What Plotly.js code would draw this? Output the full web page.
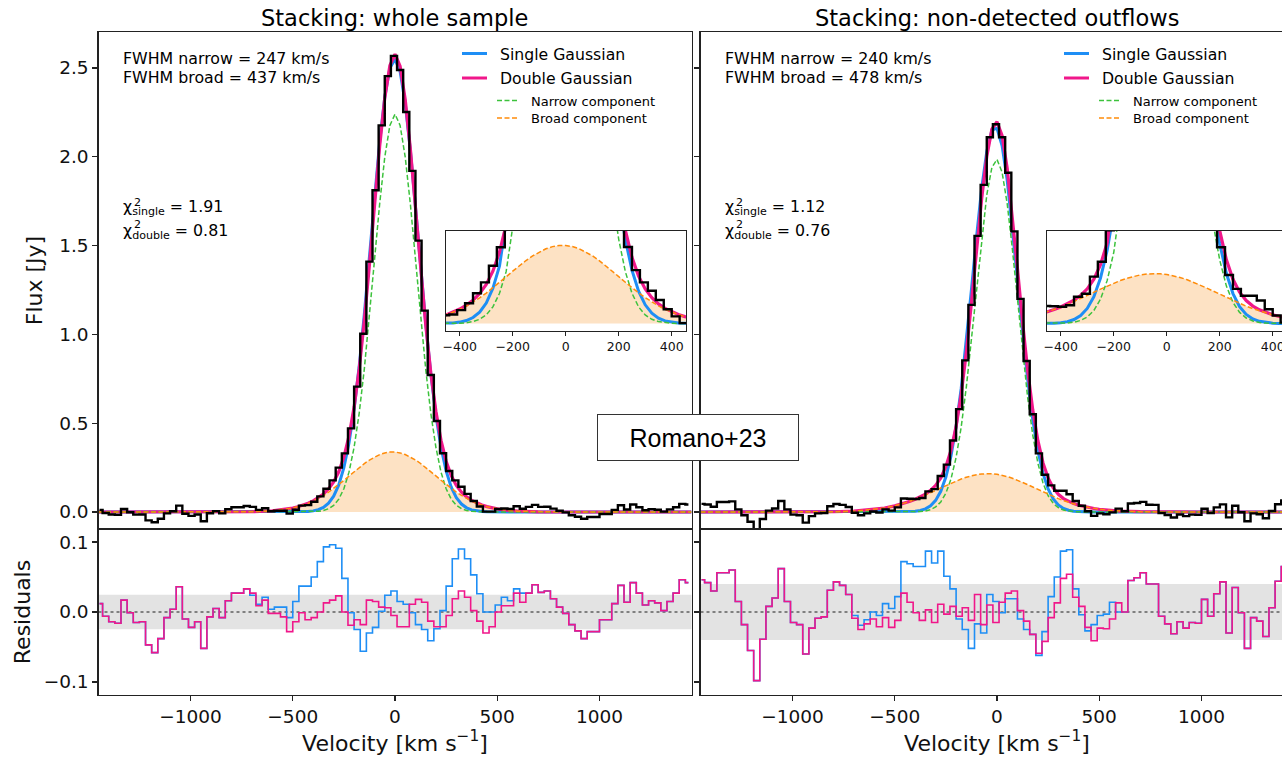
<!DOCTYPE html>
<html><head><meta charset="utf-8">
<script src="https://cdn.plot.ly/plotly-3.0.1.min.js"></script>
<style>html,body{margin:0;padding:0;overflow:hidden;background:#fff}#chart{width:1300px;height:760px}</style>
</head><body><div id="chart"></div><script>
// ---------- DATA ----------
// spectral channel centres [km/s]
const VEL = [-1445,-1415,-1385,-1355,-1325,-1295,-1265,-1235,-1205,-1175,-1145,-1115,-1085,-1055,-1025,-995,-965,-935,-905,-875,-845,-815,-785,-755,-725,-695,-665,-635,-605,-575,-545,-515,-485,-455,-425,-395,-365,-335,-305,-275,-245,-215,-185,-155,-125,-95,-65,-35,-5,25,55,85,115,145,175,205,235,265,295,325,355,385,415,445,475,505,535,565,595,625,655,685,715,745,775,805,835,865,895,925,955,985,1015,1045,1075,1105,1135,1165,1195,1225,1255,1285,1315,1345,1375,1405,1435];

// stacked flux, whole sample [Jy]
const FLUX_WHOLE = [0.012,-0.006,-0.014,-0.016,0.017,-0.001,-0.015,-0.014,-0.047,-0.058,
 -0.038,-0.008,0.004,0.036,-0.010,-0.022,-0.014,-0.052,-0.007,0.005,
 -0.008,0.016,0.027,0.027,0.034,0.029,0.012,0.021,0.004,0.007,
 0.007,-0.009,0.013,0.036,0.039,0.058,0.088,0.131,0.178,0.250,
 0.330,0.471,0.706,1.004,1.410,1.812,2.177,2.454,2.568,
 2.489,2.252,1.921,1.528,1.134,0.771,0.512,0.331,0.231,0.178,
 0.142,0.102,0.062,0.031,0.002,0.002,0.017,0.020,0.017,0.032,
 0.018,0.029,0.040,0.029,0.030,0.019,0.007,-0.002,-0.018,-0.027,
 -0.038,-0.028,-0.028,-0.011,-0.011,0.012,0.038,0.014,0.042,0.027,
 0.010,0.016,0.013,0.002,0.015,0.027,0.046,0.042];
// residuals, whole sample
const RES_DOUBLE_WHOLE = [0.012,-0.006,-0.014,-0.016,0.017,-0.001,-0.015,-0.014,-0.047,-0.058,
 -0.038,-0.008,0.004,0.036,-0.010,-0.022,-0.014,-0.052,-0.007,0.005,
 -0.008,0.016,0.027,0.027,0.033,0.027,0.009,0.017,-0.002,-0.002,
 -0.007,-0.028,-0.014,-0.001,-0.011,-0.008,0.000,0.013,0.017,0.023,
 0.000,-0.019,-0.011,-0.018,0.017,0.015,0.007,0.006,-0.005,
 -0.021,-0.021,0.011,0.018,0.014,-0.013,-0.021,-0.021,-0.005,0.019,
 0.030,0.021,0.002,-0.013,-0.030,-0.021,0.000,0.009,0.009,0.027,
 0.014,0.027,0.039,0.028,0.030,0.019,0.007,-0.002,-0.018,-0.027,
 -0.038,-0.028,-0.028,-0.011,-0.011,0.012,0.038,0.014,0.042,0.027,
 0.010,0.016,0.013,0.002,0.015,0.027,0.046,0.042];
const RES_SINGLE_WHOLE = [0.012,-0.006,-0.014,-0.016,0.017,-0.001,-0.015,-0.014,-0.047,-0.058,
 -0.038,-0.008,0.004,0.036,-0.010,-0.022,-0.014,-0.052,-0.007,0.005,
 -0.008,0.016,0.027,0.027,0.033,0.024,0.011,0.021,0.004,0.007,
 0.007,-0.008,0.015,0.037,0.037,0.050,0.072,0.093,0.096,0.091,
 0.048,-0.001,-0.025,-0.056,-0.030,-0.022,0.001,0.024,0.030,
 0.015,0.011,-0.001,-0.018,-0.025,-0.041,-0.024,0.002,0.037,0.076,
 0.090,0.076,0.053,0.026,0.000,0.000,0.010,0.021,0.016,0.033,
 0.027,0.027,0.039,0.028,0.030,0.019,0.007,-0.002,-0.018,-0.027,
 -0.038,-0.028,-0.028,-0.011,-0.011,0.012,0.038,0.014,0.042,0.027,
 0.010,0.016,0.013,0.002,0.015,0.027,0.046,0.042];

// stacked flux, non-detected outflows [Jy]
const FLUX_NONDET = [0.046,0.042,0.030,0.056,0.056,0.060,0.015,-0.018,-0.055,-0.098,
 -0.039,0.008,0.020,0.062,0.015,-0.015,-0.018,-0.060,-0.023,-0.008,
 -0.006,0.032,0.045,0.040,0.028,-0.004,-0.018,-0.008,0.003,-0.003,
 0.015,0.008,0.026,0.076,0.075,0.073,0.079,0.116,0.129,0.203,
 0.267,0.403,0.579,0.854,1.166,1.555,1.842,2.110,2.183,
 2.110,1.910,1.580,1.200,0.850,0.550,0.330,0.210,0.150,0.120,
 0.120,0.100,0.062,0.035,0.004,-0.022,-0.008,-0.013,-0.002,0.019,
 0.004,0.048,0.051,0.057,0.041,0.040,-0.006,-0.017,-0.031,-0.014,
 -0.023,-0.015,-0.016,0.018,-0.006,0.026,0.043,-0.030,0.035,-0.001,
 -0.052,-0.008,-0.013,-0.035,0.006,0.044,0.065,0.050];
const RES_DOUBLE_NONDET = [0.046,0.042,0.030,0.056,0.056,0.060,0.015,-0.018,-0.055,-0.098,
 -0.039,0.008,0.020,0.062,0.015,-0.015,-0.018,-0.060,-0.023,-0.009,
 -0.007,0.031,0.043,0.038,0.025,-0.009,-0.025,-0.017,-0.010,-0.021,
 -0.008,-0.022,-0.012,0.027,0.014,-0.001,-0.012,0.003,-0.015,0.011,
 -0.003,0.008,-0.006,0.006,-0.012,0.025,-0.018,0.010,-0.015,
 0.014,0.027,0.030,0.002,-0.013,-0.032,-0.059,-0.042,-0.008,0.013,
 0.048,0.054,0.021,0.008,-0.022,-0.041,-0.023,-0.024,-0.010,0.013,
 0.000,0.045,0.049,0.056,0.040,0.040,-0.006,-0.017,-0.031,-0.014,
 -0.023,-0.015,-0.016,0.018,-0.006,0.026,0.043,-0.030,0.035,-0.001,
 -0.052,-0.008,-0.013,-0.035,0.006,0.044,0.065,0.050];
const RES_SINGLE_NONDET = [0.046,0.042,0.030,0.056,0.056,0.060,0.015,-0.018,-0.055,-0.098,
 -0.039,0.008,0.020,0.062,0.015,-0.015,-0.018,-0.060,-0.023,-0.009,
 -0.007,0.031,0.043,0.038,0.025,-0.005,-0.019,-0.011,0.000,-0.005,
 0.012,0.005,0.022,0.072,0.069,0.065,0.065,0.087,0.070,0.087,
 0.051,0.033,-0.010,-0.025,-0.052,-0.017,-0.030,0.025,0.015,
 -0.001,0.019,0.019,-0.010,-0.025,-0.032,-0.062,-0.028,0.022,0.050,
 0.087,0.089,0.033,-0.004,-0.027,-0.018,-0.005,-0.003,0.014,0.000,
 0.000,0.045,0.049,0.056,0.040,0.040,-0.006,-0.017,-0.031,-0.014,
 -0.023,-0.015,-0.016,0.018,-0.006,0.026,0.043,-0.030,0.035,-0.001,
 -0.052,-0.008,-0.013,-0.035,0.006,0.044,0.065,0.050];

// velocity grid of the fitted model curves [km/s]
const MODEL_V = [-1450,-1000,-800,-700,-600,-550,-500,-475,-450,-425,-400,-375,-350,-325,-300,-275,-250,-225,-200,-175,-150,-125,-100,-75,-50,-25,0,25,50,75,100,125,150,175,200,225,250,275,300,325,350,375,400,425,450,475,500,550,600,700,800,1000,1450];

const NARROW_WHOLE = [0,0,0,0,0,0, 0,0,0.0002,0.0006,0.0016,0.0038,0.0086,0.0184,0.0375,0.0722,0.131,0.2245,0.364,0.557,0.806,1.101,1.422,1.735,1.999,2.177, 2.24, 2.177,1.999,1.735,1.422,1.101,0.806,0.557,0.364,0.2245,0.131,0.0722,0.0375,0.0184,0.0086,0.0038,0.0016,0.0006,0.0002,0,0, 0,0,0,0,0,0];
const BROAD_WHOLE = [0,0,0.0003,0.0016,0.0067,0.0127, 0.0227,0.0297,0.0384,0.0489,0.0613,0.0759,0.0925,0.1113,0.132,0.1543,0.1779,0.2021,0.2264,0.2501,0.2724,0.2924,0.3096,0.3231,0.3325,0.3374, 0.3374, 0.3328,0.3236,0.3102,0.2932,0.2732,0.251,0.2274,0.203,0.1788,0.1552,0.1328,0.1121,0.0933,0.0765,0.0619,0.0493,0.0388,0.03,0.023,0.0173, 0.0094,0.0048,0.0011,0.0002,0,0];
const DOUBLE_WHOLE = [0,0,0.0003,0.0016,0.0067,0.0127, 0.0227,0.0297,0.0386,0.0495,0.0629,0.0797,0.1011,0.1297,0.1695,0.2265,0.3089,0.4266,0.5904,0.8071,1.0784,1.3934,1.7316,2.0581,2.3315,2.5144, 2.5774, 2.5098,2.3226,2.0452,1.7152,1.3742,1.057,0.7844,0.567,0.4033,0.2862,0.205,0.1496,0.1117,0.0851,0.0657,0.0509,0.0394,0.0302,0.023,0.0173, 0.0094,0.0048,0.0011,0.0002,0,0];
const SINGLE_WHOLE = [0,0,0,0,0,0, 0.0002,0.0005,0.0013,0.0029,0.0064,0.0132,0.0262,0.0494,0.0888,0.1523,0.2493,0.3891,0.5794,0.8224,1.1141,1.4392,1.7736,2.0846,2.3372,2.4995, 2.5496, 2.4807,2.3021,2.038,1.7208,1.3858,1.0646,0.78,0.5452,0.3634,0.2311,0.1402,0.0811,0.0448,0.0236,0.0118,0.0057,0.0026,0.0011,0.0005,0.0002, 0,0,0,0,0,0];

const NARROW_NONDET = [0,0,0,0,0,0, 0,0,0.0001,0.0004,0.001,0.0026,0.0061,0.0136,0.0287,0.0567,0.1057,0.1856,0.3071,0.4789,0.7036,0.9735,1.2632,1.5489,1.7859,1.9403, 1.9851, 1.9126,1.7352,1.4817,1.1924,0.9027,0.6436,0.433,0.2746,0.163,0.0915,0.0484,0.0241,0.0113,0.005,0.0021,0.0008,0.0003,0.0001,0,0, 0,0,0,0,0,0];
const BROAD_NONDET = [0,0.0001,0.0014,0.0048,0.0141,0.0226, 0.0346,0.0421,0.0506,0.0602,0.0708,0.0824,0.0948,0.1079,0.1215,0.1353,0.1489,0.1622,0.1746,0.186,0.1959,0.2041,0.2103,0.2143,0.216,0.2152, 0.2122, 0.2068,0.1994,0.1902,0.1793,0.1673,0.1543,0.1407,0.127,0.1133,0.1,0.0873,0.0753,0.0643,0.0543,0.0453,0.0375,0.0306,0.0247,0.0197,0.0156, 0.0094,0.0054,0.0016,0.0004,0,0];
const DOUBLE_NONDET = [0,0.0001,0.0014,0.0048,0.0141,0.0226, 0.0346,0.0421,0.0507,0.0606,0.0718,0.085,0.1009,0.1215,0.1502,0.192,0.2546,0.3478,0.4817,0.6649,0.8995,1.1776,1.4735,1.7632,2.0019,2.1555, 2.1973, 2.1194,1.9346,1.6719,1.3717,1.07,0.7979,0.5737,0.4016,0.2763,0.1915,0.1357,0.0994,0.0756,0.0593,0.0474,0.0383,0.0309,0.0248,0.0197,0.0156, 0.0094,0.0054,0.0016,0.0004,0,0];
const SINGLE_NONDET = [0,0,0,0,0,0, 0.0001,0.0003,0.0007,0.0017,0.0038,0.0084,0.0176,0.0347,0.0654,0.1163,0.1969,0.316,0.482,0.6972,0.9594,1.2515,1.5487,1.82,2.0301,2.1498, 2.161, 2.0621,1.8677,1.6063,1.3116,1.0171,0.7469,0.5192,0.3456,0.2174,0.1297,0.0734,0.0395,0.0202,0.0098,0.0045,0.002,0.0008,0.0003,0.0001,0, 0,0,0,0,0,0];

// rms bands of the residuals
const RMS_WHOLE = 0.0245;
const RMS_NONDET = 0.040;

// texts
const PANEL_TITLES = ['Stacking: whole sample', 'Stacking: non-detected outflows'];
const FWHM_TEXT = [['FWHM narrow = 247 km/s','FWHM broad = 437 km/s'],['FWHM narrow = 240 km/s','FWHM broad = 478 km/s']];
const CHI_SINGLE = ['1.91','1.12'];
const CHI_DOUBLE = ['0.81','0.76'];
const LEGEND_NAMES = ['Single Gaussian','Double Gaussian','Narrow component','Broad component'];
const FLUX_TICKS = [0,0.5,1,1.5,2,2.5];
const RES_TICKS = [-0.1,0,0.1];
const VEL_TICKS = [-1000,-500,0,500,1000];
const INSET_TICKS = [-400,-200,0,200,400];

// ---------- STYLE / LAYOUT ----------
const W = 1300, H = 760;
const px = x => x / W, py = y => 1 - y / H;
const FONT = 'DejaVu Sans, sans-serif';
const C_SINGLE = '#1e8ef5', C_DOUBLE = '#f0178a', C_NARROW = '#3cc23c', C_BROAD = '#ff8c0a', C_FILL = '#fde2c4';
const DASH = '5px,2.5px';

function specTraces(xa, ya, narrow, broad, single, dbl, flux) {
  const base = {xaxis: xa, yaxis: ya, type: 'scatter', hoverinfo: 'skip', showlegend: false, cliponaxis: true};
  return [
    Object.assign({x: MODEL_V, y: broad, mode: 'none', fill: 'tozeroy', fillcolor: C_FILL}, base),
    Object.assign({x: MODEL_V, y: single, mode: 'lines', line: {color: C_SINGLE, width: 3}}, base),
    Object.assign({x: MODEL_V, y: dbl, mode: 'lines', line: {color: C_DOUBLE, width: 3.2}}, base),
    Object.assign({x: MODEL_V, y: narrow, mode: 'lines', line: {color: C_NARROW, width: 1.5, dash: DASH}}, base),
    Object.assign({x: MODEL_V, y: broad, mode: 'lines', line: {color: C_BROAD, width: 1.5, dash: DASH}}, base),
    Object.assign({x: VEL, y: flux, mode: 'lines', line: {color: '#000', width: 2.4, shape: 'hvh'}}, base)
  ];
}
function resTraces(xa, ya, rs, rd) {
  const base = {xaxis: xa, yaxis: ya, type: 'scatter', mode: 'lines', hoverinfo: 'skip', showlegend: false};
  return [
    Object.assign({x: VEL, y: rs, line: {color: C_SINGLE, width: 1.6, shape: 'hvh'}}, base),
    Object.assign({x: VEL, y: rd, line: {color: C_DOUBLE, width: 1.6, shape: 'hvh'}}, base)
  ];
}

const data = [].concat(
  specTraces('x', 'y', NARROW_WHOLE, BROAD_WHOLE, SINGLE_WHOLE, DOUBLE_WHOLE, FLUX_WHOLE),
  specTraces('x2', 'y2', NARROW_NONDET, BROAD_NONDET, SINGLE_NONDET, DOUBLE_NONDET, FLUX_NONDET),
  resTraces('x3', 'y3', RES_SINGLE_WHOLE, RES_DOUBLE_WHOLE),
  resTraces('x4', 'y4', RES_SINGLE_NONDET, RES_DOUBLE_NONDET),
  specTraces('x5', 'y5', NARROW_WHOLE, BROAD_WHOLE, SINGLE_WHOLE, DOUBLE_WHOLE, FLUX_WHOLE),
  specTraces('x6', 'y6', NARROW_NONDET, BROAD_NONDET, SINGLE_NONDET, DOUBLE_NONDET, FLUX_NONDET)
);

const axBase = {showline: true, mirror: true, linecolor: '#222', linewidth: 1.2, zeroline: false, showgrid: false,
  ticks: 'outside', ticklen: 5, tickwidth: 1.2, tickcolor: '#222', tickfont: {family: FONT, size: 18.5, color: '#111'}};
const titleFont = {family: FONT, size: 22, color: '#111'};
const XL = [px(98.5), px(691.5)], XR = [px(700.5), px(1293.5)];
const YM = [py(529), py(32)], YR = [py(695), py(529)];
const VRANGE = [-1450, 1450];

const layout = {
  width: W, height: H, margin: {l: 0, r: 0, t: 0, b: 0},
  paper_bgcolor: '#fff', plot_bgcolor: '#fff', showlegend: false,
  xaxis: Object.assign({}, axBase, {domain: XL, range: VRANGE, anchor: 'y', ticks: '', showticklabels: false}),
  yaxis: Object.assign({}, axBase, {domain: YM, range: [-0.0957, 2.7027], anchor: 'x', tickvals: FLUX_TICKS, tickformat: '.1f',
    title: {text: 'Flux [Jy]', font: titleFont, standoff: 10}}),
  xaxis2: Object.assign({}, axBase, {domain: XR, range: VRANGE, anchor: 'y2', ticks: '', showticklabels: false}),
  yaxis2: Object.assign({}, axBase, {domain: YM, range: [-0.0957, 2.7027], anchor: 'x2', tickvals: FLUX_TICKS, showticklabels: false}),
  xaxis3: Object.assign({}, axBase, {domain: XL, range: VRANGE, anchor: 'y3', tickvals: VEL_TICKS,
    title: {text: 'Velocity [km s<sup>−1</sup>]', font: titleFont, standoff: 8}}),
  yaxis3: Object.assign({}, axBase, {domain: YR, range: [-0.1186, 0.1186], anchor: 'x3', tickvals: RES_TICKS, tickformat: '.1f',
    title: {text: 'Residuals', font: titleFont, standoff: 7}}),
  xaxis4: Object.assign({}, axBase, {domain: XR, range: VRANGE, anchor: 'y4', tickvals: VEL_TICKS,
    title: {text: 'Velocity [km s<sup>−1</sup>]', font: titleFont, standoff: 8}}),
  yaxis4: Object.assign({}, axBase, {domain: YR, range: [-0.1186, 0.1186], anchor: 'x4', tickvals: RES_TICKS, showticklabels: false}),
  xaxis5: Object.assign({}, axBase, {domain: [px(446), px(686)], range: [-452, 454], anchor: 'y5', tickvals: INSET_TICKS, ticklen: 4,
    linewidth: 1, tickwidth: 1, tickfont: {family: FONT, size: 12.5, color: '#111'}}),
  yaxis5: Object.assign({}, axBase, {domain: [py(331), py(231)], range: [-0.032, 0.40], anchor: 'x5', ticks: '', showticklabels: false, linewidth: 1}),
  xaxis6: Object.assign({}, axBase, {domain: [px(1047), px(1287)], range: [-452, 454], anchor: 'y6', tickvals: INSET_TICKS, ticklen: 4,
    linewidth: 1, tickwidth: 1, tickfont: {family: FONT, size: 12.5, color: '#111'}}),
  yaxis6: Object.assign({}, axBase, {domain: [py(331), py(231)], range: [-0.032, 0.40], anchor: 'x6', ticks: '', showticklabels: false, linewidth: 1}),
  shapes: [],
  annotations: []
};

// residual rms bands and zero lines
[['x3', 'y3', RMS_WHOLE], ['x4', 'y4', RMS_NONDET]].forEach(([xa, ya, r]) => {
  layout.shapes.push({type: 'rect', xref: xa + ' domain', yref: ya, x0: 0, x1: 1, y0: -r, y1: r, fillcolor: '#e3e3e3', line: {width: 0}, layer: 'below'});
  layout.shapes.push({type: 'line', xref: xa + ' domain', yref: ya, x0: 0, x1: 1, y0: 0, y1: 0, line: {color: '#808080', width: 2, dash: 'dot'}, layer: 'below'});
});

function txt(text, x, y, size, extra) {
  return Object.assign({text: text, xref: 'paper', yref: 'paper', x: px(x), y: py(y), xanchor: 'left', yanchor: 'middle',
    showarrow: false, font: {family: FONT, size: size, color: '#000'}}, extra || {});
}

[0, 1].forEach(i => {
  const dx = i === 0 ? 0 : 602;   // horizontal offset of the right panel
  // panel title
  layout.annotations.push(txt(PANEL_TITLES[i], 395 + dx, 18, 22.5, {xanchor: 'center'}));
  // FWHM text
  layout.annotations.push(txt(FWHM_TEXT[i][0], 121 + dx, 59, 15.8));
  layout.annotations.push(txt(FWHM_TEXT[i][1], 121 + dx, 77.5, 15.8));
  // chi^2 text (superscript 2 stacked above the subscript)
  layout.annotations.push(txt('χ<sub>single</sub> = ' + CHI_SINGLE[i], 121 + dx, 208, 15.8));
  layout.annotations.push(txt('2', 132 + dx, 202, 11));
  layout.annotations.push(txt('χ<sub>double</sub> = ' + CHI_DOUBLE[i], 121 + dx, 231, 15.8));
  layout.annotations.push(txt('2', 132 + dx, 225, 11));
  // legend
  const leg = [
    [C_SINGLE, 3, 'solid', 462, 487, 53.5, LEGEND_NAMES[0], 498, 15.7],
    [C_DOUBLE, 3, 'solid', 462, 487, 78, LEGEND_NAMES[1], 498, 15.7],
    [C_NARROW, 1.5, DASH, 497, 518, 100.5, LEGEND_NAMES[2], 529, 13],
    [C_BROAD, 1.5, DASH, 497, 518, 118, LEGEND_NAMES[3], 529, 13]
  ];
  leg.forEach(([c, w, d, x0, x1, y, name, tx, fs]) => {
    layout.shapes.push({type: 'line', xref: 'paper', yref: 'paper', x0: px(x0 + dx), x1: px(x1 + dx), y0: py(y), y1: py(y), line: {color: c, width: w, dash: d}});
    layout.annotations.push(txt(name, tx + dx, y + 0.5, fs));
  });
});

// Romano+23 label
layout.annotations.push({text: 'Romano+23', xref: 'paper', yref: 'paper', x: px(698), y: py(437.5), xanchor: 'center', yanchor: 'middle',
  showarrow: false, width: 200, height: 45, borderpad: 0, bgcolor: '#fff', bordercolor: '#333', borderwidth: 1,
  font: {family: 'Liberation Sans, Arial, sans-serif', size: 25, color: '#000'}});

Plotly.newPlot('chart', data, layout, {displayModeBar: false, staticPlot: true});
</script></body></html>
